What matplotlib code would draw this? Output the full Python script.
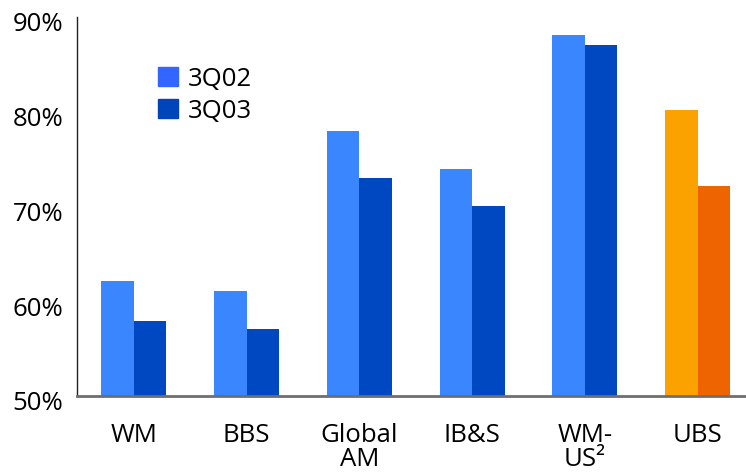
import numpy as np
import matplotlib
matplotlib.use('Agg')
import matplotlib.pyplot as plt
import matplotlib.transforms as mtransforms

# Data
categories = ['WM', 'BBS', 'Global\nAM', 'IB&S', 'WM-\nUS²', 'UBS']
q302 = [62.1, 61.1, 78.0, 74.0, 88.1, 80.2]
q303 = [57.9, 57.1, 73.0, 70.0, 87.0, 72.2]
yticks = [50, 60, 70, 80, 90]

light = '#3A86FF'
dark = '#0048C2'
ubs_light = '#FBA100'
ubs_dark = '#EE6500'

plt.rcParams['font.family'] = ['Open Sans', 'DejaVu Sans']

fig = plt.figure(figsize=(7.46, 4.73), dpi=100)
ax = fig.add_axes([0.1032, 0.1628, 0.8968, 0.8013])

x = np.arange(len(categories))
w = 0.288
c1 = [light] * 5 + [ubs_light]
c2 = [dark] * 5 + [ubs_dark]
ax.bar(x - w / 2, q302, width=w, color=c1, label='3Q02')
ax.bar(x + w / 2, q303, width=w, color=c2, label='3Q03')

ax.set_ylim(50, 90)
ax.set_xlim(-0.505, 5.43)
ax.set_yticks(yticks)
ax.set_yticklabels([f'{v}%' for v in yticks])
ax.set_xticks(x)
ax.set_xticklabels(categories, linespacing=0.95)
ax.tick_params(axis='y', length=0, pad=10, labelsize=18.5)
ax.tick_params(axis='x', length=0, pad=19.5, labelsize=18.5)

# y labels in the reference sit a few pixels below their gridline positions
off = mtransforms.ScaledTranslation(0, -5 / 100, fig.dpi_scale_trans)
for lab in ax.get_yticklabels():
    lab.set_transform(lab.get_transform() + off)

for s in ['top', 'right']:
    ax.spines[s].set_visible(False)
ax.spines['left'].set_color('#222222')
ax.spines['left'].set_linewidth(1.0)
ax.spines['bottom'].set_color('#6e6e6e')
ax.spines['bottom'].set_linewidth(2.0)

# legend (blue series only)
leg = ax.legend(loc='upper left', bbox_to_anchor=(0.087, 0.93), frameon=False,
                fontsize=18.5, handlelength=0.75, handleheight=0.75,
                handletextpad=0.4, labelspacing=0.27)
leg.legend_handles[0].set_color('#3366FF')
leg.legend_handles[1].set_color('#0044BB')

fig.savefig('out.png', dpi=100)
